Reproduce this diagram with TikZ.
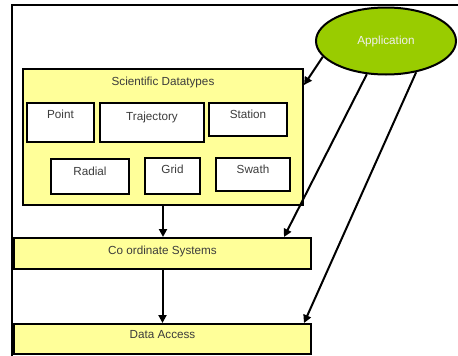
\documentclass[tikz,border=0pt]{standalone}
\usepackage{fontspec}
\setmainfont{Liberation Sans}
\usepackage{tikz}
\usetikzlibrary{shapes,shapes.geometric,calc,arrows,arrows.meta,positioning}
\usepackage{xcolor}
\definecolor{dtyellow}{RGB}{255,255,153}
\definecolor{appgreen}{RGB}{153,204,0}
\definecolor{labelgray}{RGB}{60,60,60}

\tikzset{
  layerbox/.style={draw=black, line width=2pt, fill=dtyellow, anchor=north west,
    inner sep=0pt, text=labelgray},
  typebox/.style={draw=black, line width=2pt, fill=white, anchor=north west,
    inner sep=0pt, text=labelgray, text height=15pt},
  link/.style={draw=black, line width=2pt, -{Triangle[length=8pt,width=8pt]}}
}

\begin{document}
\begin{tikzpicture}[x=1pt, y=-1pt, font=\fontsize{11.7}{14}\selectfont]
\useasboundingbox (0,0) rectangle (458,356);

% outer frame (left and top edges only)
\draw[line width=2.4pt] (12,356) -- (12,5) -- (458,5);

% Scientific Datatypes container
\node[layerbox, minimum width=280pt, minimum height=136pt,
      text height=16pt, text depth=120pt] (sd) at (22,68) {Scientific Datatypes};

% datatypes, first row
\node[typebox, minimum width=67pt,  minimum height=39pt, text depth=24pt] (point)   at (26,102)  {Point};
\node[typebox, minimum width=104pt, minimum height=39pt, text height=17pt, text depth=22pt] (traj) at (99,102) {Trajectory};
\node[typebox, minimum width=78pt,  minimum height=33pt, text depth=18pt] (station) at (208,102) {Station};

% datatypes, second row
\node[typebox, minimum width=78pt, minimum height=35pt, text height=16pt, text depth=19pt] (radial) at (50,158) {Radial};
\node[typebox, minimum width=55pt, minimum height=36pt, text depth=21pt] (grid)  at (144,157) {Grid};
\node[typebox, minimum width=74pt, minimum height=33pt, text depth=18pt] (swath) at (215,157) {Swath};

% lower layers
\node[layerbox, minimum width=297pt, minimum height=31pt,
      text height=16pt, text depth=15pt] (cs) at (13,237) {Co ordinate Systems};
\node[layerbox, minimum width=297pt, minimum height=30pt,
      text height=14pt, text depth=16pt] (da) at (13,323) {Data Access};

% application
\node[ellipse, draw=black, line width=2pt, fill=appgreen, minimum width=140pt,
      minimum height=67pt, inner sep=0pt, text=white!88!gray] (app) at (386,41) {Application};

% layer arrows
\draw[link] (sd.south) -- (sd.south |- cs.north);
\draw[link] (cs.south) -- (cs.south |- da.north);

% application arrows
\draw[link] (app.194) -- ($(sd.north east)+(0,17)$);
\draw[link] (app.240) -- ($(cs.north east)+(-28,0)$);
\draw[link] (app.314) -- ($(da.north east)+(-8,0)$);
\end{tikzpicture}
\end{document}
